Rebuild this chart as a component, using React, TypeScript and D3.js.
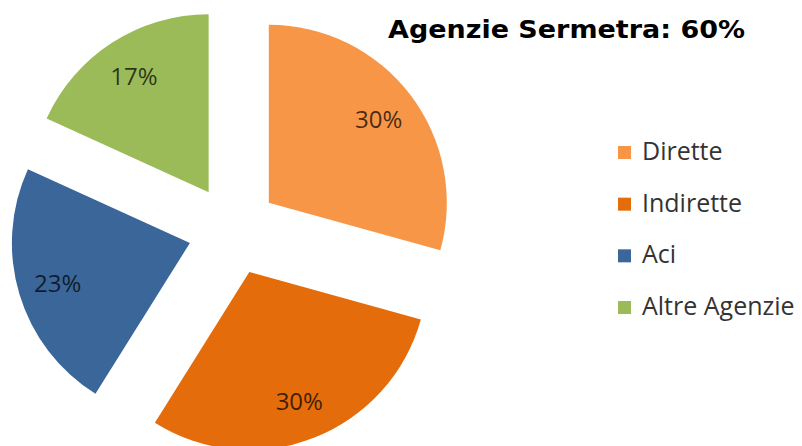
import React from "react";
import * as d3 from "d3";

const categories = ["Dirette", "Indirette", "Aci", "Altre Agenzie"];
const values = [29.3, 29.6, 22.9, 18.2];
const labels = ["30%", "30%", "23%", "17%"];
const colors = ["#F79646", "#E46C0A", "#3A6699", "#9BBB59"];
const title = "Agenzie Sermetra: 60%";

export default function App() {
  const W = 802, H = 446;
  const cx = 233, cy = 230, r = 178, explode = 45, labelR = 138;
  const pie = d3.pie<number>().sort(null).value((d) => d)(values);
  const arc = d3.arc<d3.PieArcDatum<number>>().innerRadius(0).outerRadius(r);
  const legendY = d3.scaleLinear().domain([0, 3]).range([160, 315]);
  return (
    <svg width={W} height={H} style={{ position: "absolute", left: 0, top: 0, background: "#fff" }}>
      <rect width={W} height={H} fill="#fff" />
      {pie.map((p, i) => {
        const mid = (p.startAngle + p.endAngle) / 2;
        const ox = cx + explode * Math.sin(mid);
        const oy = cy - explode * Math.cos(mid);
        const lx = labelR * Math.sin(mid);
        const ly = -labelR * Math.cos(mid);
        return (
          <g key={i} transform={`translate(${ox},${oy})`}>
            <path d={arc(p) || ""} fill={colors[i]} />
            <text x={lx} y={ly + 9} textAnchor="middle"
              fontFamily="'Open Sans', sans-serif" fontSize={24} fill="#000" fillOpacity={0.72}>{labels[i]}</text>
          </g>
        );
      })}
      <text x={388} y={38} fontFamily="'DejaVu Sans', Verdana, sans-serif" fontWeight="bold"
        fontSize={25} textLength={357} lengthAdjust="spacingAndGlyphs" fill="#000">{title}</text>
      {categories.map((c, i) => {
        const y = legendY(i);
        return (
          <g key={c}>
            <rect x={618} y={y - 14} width={13} height={13} fill={colors[i]} />
            <text x={642} y={y} fontFamily="'Open Sans', sans-serif"
              fontSize={25} fill="#333">{c}</text>
          </g>
        );
      })}
    </svg>
  );
}
